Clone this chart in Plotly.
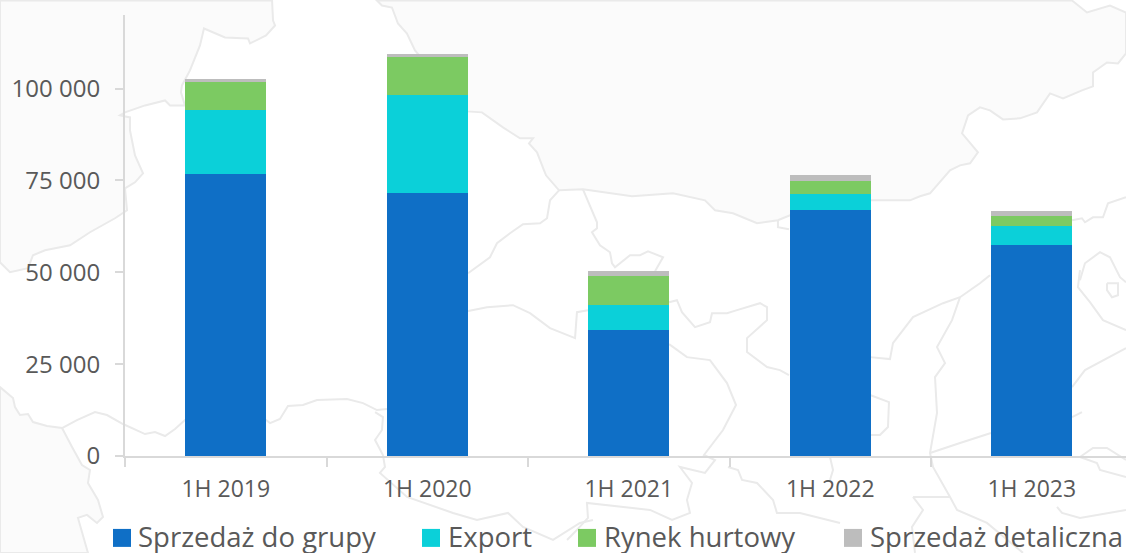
import plotly.graph_objects as go

categories = ["1H 2019", "1H 2020", "1H 2021", "1H 2022", "1H 2023"]
grupa = [76700, 71550, 34240, 66930, 57420]
export = [17320, 26630, 6980, 4350, 5160]
hurt = [7680, 10320, 7770, 3530, 2720]
detal = [1000, 900, 1280, 1550, 1280]
series_names = ["Sprzedaż do grupy", "Export", "Rynek hurtowy", "Sprzedaż detaliczna"]
series_colors = ["#0F6FC6", "#0BD0D9", "#7CCA62", "#BDBDBD"]
y_ticks = [0, 25000, 50000, 75000, 100000]
y_labels = ["0", "25 000", "50 000", "75 000", "100 000"]

W, H = 1126, 553
L, T, B = 125, 14.5, 456
STEP = 201.5
TXT = "#595959"
FONT = "Open Sans"
MAP_LINE = "#EAEAEA"
MAP_FILL = "#FBFBFB"

# Decorative map backdrop, traced in page pixels (not chart data)
map_fills = [
    [(0,0),(272,0),(273,20),(275,25),(266,35),(250,43),(248,38),(225,37),(204,28),(200,45),(190,70),(182,85),(181,92),
     (185,105),(170,105),(165,100),(145,105),(125,112),(120,115),(130,117),(130,130),(135,155),(143,173),(135,182),
     (125,188),(127,210),(115,218),(90,232),(70,245),(45,250),(33,255),(28,268),(10,272),(0,262)],
    [(377,0),(1072,0),(1087,12),(1110,5),(1126,12),(1126,53),(1118,63),(1107,62),(1093,72),(1093,86),(1082,90),(1063,98),
     (1050,93),(1037,112),(1020,118),(1003,119),(990,110),(980,107),(968,115),(962,133),(978,152),(970,163),(960,165),
     (950,170),(930,193),(920,196),(910,200),(870,200),(790,215),(778,220),(757,223),(733,213),(715,210),(705,200),
     (673,193),(632,196),(583,189),(559,190),(546,175),(544,170),(537,152),(529,143),(533,138),(520,138),(503,127),
     (482,112),(467,111),(415,50),(407,33),(398,23),(392,7),(382,5)],
    [(0,387),(13,398),(15,407),(20,415),(28,414),(33,422),(47,426),(62,428),(72,447),(82,465),(90,470),(88,483),
     (98,500),(103,517),(97,523),(87,515),(78,518),(88,553),(0,553)],
]
map_lines = [
    [(62,428),(77,420),(95,412),(107,415),(123,424),(145,434),(155,432),(165,436),(175,429),(185,420),(266,420),(270,423),
     (280,419),(288,406),(303,405),(317,400),(347,399),(363,403),(377,410),(387,409)],
    [(375,412),(383,417),(382,430),(375,440),(383,455),(385,467),(380,473),(407,497),(453,513),(477,520),(508,513),
     (523,527),(553,540),(580,523),(593,520)],
    [(559,190),(550,200),(547,218),(540,223),(523,224),(510,233),(497,243),(490,257),(468,273)],
    [(583,189),(597,222),(597,228),(592,232),(600,245),(610,252),(612,263),(615,267),(630,255),(640,255),(648,251),
     (663,257),(655,271)],
    [(778,220),(778,227),(789,229)],
    [(467,311),(487,307),(513,305),(530,313),(550,328),(575,338),(577,312),(588,310)],
    [(669,302),(677,300),(682,312),(695,327),(710,322),(712,313),(727,313),(737,310),(760,303),(767,307),(767,320),
     (747,338),(747,352),(767,367),(780,370),(789,375)],
    [(669,344),(687,357),(710,360),(727,383),(736,405),(723,430),(704,455),(715,460),(705,473),(680,467),(692,483),
     (687,500),(690,513),(672,520),(650,510),(587,503),(588,518),(577,530),(567,540)],
    [(728,467),(738,470),(742,480),(757,483),(773,500),(777,513),(800,513),(840,523)],
    [(830,457),(833,470),(830,480)],
    [(870,357),(890,359),(893,343),(913,317),(943,303),(960,297),(980,283),(990,275)],
    [(960,297),(952,320),(937,347),(945,363),(935,377),(937,413),(930,453),(933,467),(950,497),(957,510),(987,523),(1023,553)],
    [(930,453),(960,443),(991,433)],
    [(870,395),(889,402),(888,427),(880,435),(870,435)],
    [(1072,387),(1085,370),(1126,348)],
    [(1072,417),(1082,412)],
    [(1072,220),(1082,218),(1085,222),(1093,217),(1103,217),(1108,203),(1126,197)],
    [(1080,280),(1085,263),(1100,252),(1110,257),(1120,277),(1126,282)],
    [(1080,270),(1078,287),(1090,302),(1103,320),(1126,330)],
    [(1107,283),(1118,283),(1118,295),(1112,297),(1107,290),(1107,283)],
    [(913,497),(950,497)],
    [(913,497),(923,510),(912,527),(915,553)],
    [(1080,457),(1093,448),(1107,448),(1126,460)],
    [(1080,457),(1097,463),(1100,470),(1126,477)],
    [(1057,507),(1062,513),(1080,518),(1126,510)],
]


def px(x):
    return (x - L) / (W - L)


def py(y):
    return (B - y) / (B - T)


def path(points, close=False):
    d = "M " + " L ".join(f"{px(x):.4f},{py(y):.4f}" for x, y in points)
    return d + (" Z" if close else "")


fig = go.Figure()
for name, vals, col in zip(series_names, [grupa, export, hurt, detal], series_colors):
    fig.add_trace(go.Bar(x=categories, y=vals, name=name, marker=dict(color=col, line_width=0), showlegend=False))

fig.update_layout(
    width=W, height=H, barmode="stack", bargap=0.6,
    margin=dict(l=L, r=0, t=T, b=H - B, autoexpand=False),
    paper_bgcolor="white", plot_bgcolor="rgba(0,0,0,0)",
    font=dict(family=FONT, color=TXT, size=23),
)
fig.update_xaxes(
    type="category", range=[-0.5, (W - L) / STEP - 0.5], tickson="boundaries",
    ticks="outside", ticklen=9, tickcolor="#D9D9D9", tickwidth=1.5,
    showline=True, linecolor="#D9D9D9", linewidth=2, showgrid=False,
    tickfont=dict(size=23, color=TXT), ticklabelstandoff=11, fixedrange=True,
)
fig.update_yaxes(
    range=[0, 120000], tickvals=y_ticks, ticktext=y_labels,
    ticks="outside", ticklen=8, tickcolor="#D9D9D9", tickwidth=1.5,
    showline=True, linecolor="#D9D9D9", linewidth=2, showgrid=False, zeroline=False,
    tickfont=dict(size=24, color=TXT), ticklabelstandoff=10, fixedrange=True,
)

for pts in map_fills:
    fig.add_shape(type="path", xref="paper", yref="paper", path=path(pts, True), layer="below",
                  fillcolor=MAP_FILL, line=dict(color=MAP_LINE, width=2))
for pts in map_lines:
    fig.add_shape(type="path", xref="paper", yref="paper", path=path(pts), layer="below",
                  line=dict(color=MAP_LINE, width=2))

# legend drawn at the reference's size
legend_box_x = [113, 422, 578, 844]
legend_text_x = [139, 449, 605, 871]
for name, col, bx, tx in zip(series_names, series_colors, legend_box_x, legend_text_x):
    fig.add_shape(type="rect", xref="paper", yref="paper",
                  x0=px(bx), x1=px(bx + 18), y0=py(547), y1=py(529),
                  fillcolor=col, line_width=0)
    fig.add_annotation(text=name, xref="paper", yref="paper", showarrow=False,
                       x=px(tx), y=py(537), xanchor="left", yanchor="middle",
                       xshift=-3, font=dict(size=27.5, color=TXT))

fig.write_html("out.html", config={"displayModeBar": False},
               post_script="document.body.style.margin='0';document.body.style.overflow='hidden';")
